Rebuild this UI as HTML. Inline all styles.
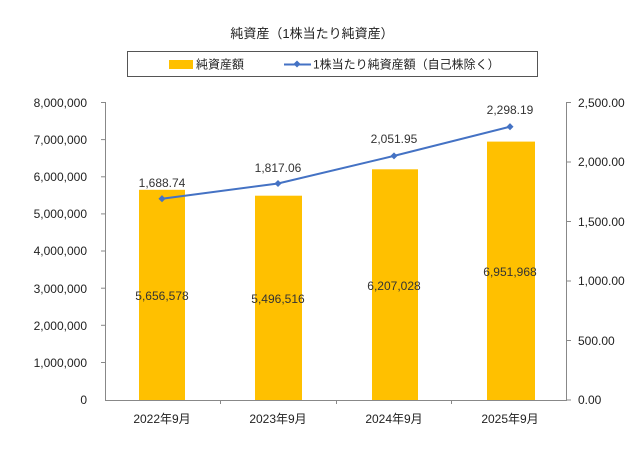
<!DOCTYPE html>
<html><head><meta charset="utf-8"><style>
html,body{margin:0;padding:0;background:#fff;}
svg{display:block;font-family:"Liberation Sans","Noto Sans CJK JP",sans-serif;}
</style></head><body>
<svg width="640" height="450" viewBox="0 0 640 450" xmlns="http://www.w3.org/2000/svg">
<rect width="640" height="450" fill="#fff"/>
<text x="312" y="38" font-size="13" text-anchor="middle" fill="#222">純資産（1株当たり純資産）</text>
<rect x="127.5" y="51.5" width="410" height="25" fill="#fff" stroke="#555" stroke-width="1"/>
<rect x="169" y="60" width="24" height="9" fill="#FFC000"/>
<text x="196" y="68.5" font-size="12" fill="#222">純資産額</text>
<line x1="284" y1="64.5" x2="311" y2="64.5" stroke="#4472C4" stroke-width="2"/>
<rect x="294.5" y="61.5" width="5" height="5" fill="#4472C4" transform="rotate(45 297 64)"/>
<text x="313" y="68.5" font-size="12" fill="#222">1株当たり純資産額（自己株除く）</text>
<g stroke="#888" stroke-width="1">
<line x1="105.5" y1="102" x2="105.5" y2="400"/>
<line x1="566.5" y1="102" x2="566.5" y2="400"/>
<line x1="105" y1="400.5" x2="567" y2="400.5"/>
<line x1="101" y1="102.5" x2="105" y2="102.5"/><line x1="101" y1="139.6" x2="105" y2="139.6"/>
<line x1="101" y1="176.8" x2="105" y2="176.8"/><line x1="101" y1="213.9" x2="105" y2="213.9"/>
<line x1="101" y1="251" x2="105" y2="251"/><line x1="101" y1="288.2" x2="105" y2="288.2"/>
<line x1="101" y1="325.3" x2="105" y2="325.3"/><line x1="101" y1="362.5" x2="105" y2="362.5"/>
<line x1="567" y1="102.5" x2="571" y2="102.5"/><line x1="567" y1="162" x2="571" y2="162"/>
<line x1="567" y1="221.5" x2="571" y2="221.5"/><line x1="567" y1="281" x2="571" y2="281"/>
<line x1="567" y1="340.5" x2="571" y2="340.5"/><line x1="567" y1="400" x2="571" y2="400"/>
<line x1="220.5" y1="400" x2="220.5" y2="404"/><line x1="336.5" y1="400" x2="336.5" y2="404"/>
<line x1="451.5" y1="400" x2="451.5" y2="404"/>
</g>
<g font-size="12" fill="#222" text-anchor="end">
<text x="87" y="107">8,000,000</text><text x="87" y="144">7,000,000</text>
<text x="87" y="181">6,000,000</text><text x="87" y="218">5,000,000</text>
<text x="87" y="255">4,000,000</text><text x="87" y="293">3,000,000</text>
<text x="87" y="330">2,000,000</text><text x="87" y="367">1,000,000</text>
<text x="87" y="404">0</text>
</g>
<g font-size="12" fill="#222">
<text x="578" y="107">2,500.00</text><text x="578" y="166">2,000.00</text>
<text x="578" y="226">1,500.00</text><text x="578" y="285">1,000.00</text>
<text x="578" y="345">500.00</text><text x="578" y="404">0.00</text>
</g>
<g fill="#FFC000">
<rect x="139" y="189.8" width="46" height="210.2"/>
<rect x="255" y="195.7" width="47" height="204.3"/>
<rect x="372" y="169.3" width="46" height="230.7"/>
<rect x="487" y="141.6" width="48" height="258.4"/>
</g>
<g font-size="12" fill="#333" text-anchor="middle">
<text x="162" y="300">5,656,578</text><text x="278" y="303">5,496,516</text>
<text x="394" y="290">6,207,028</text><text x="510" y="276">6,951,968</text>
</g>
<polyline points="162,198.7 278,183.5 394,155.9 510,126.7" fill="none" stroke="#4472C4" stroke-width="2"/>
<g fill="#4472C4">
<rect x="159.5" y="196.2" width="5" height="5" transform="rotate(45 162 198.7)"/>
<rect x="275.5" y="181" width="5" height="5" transform="rotate(45 278 183.5)"/>
<rect x="391.5" y="153.4" width="5" height="5" transform="rotate(45 394 155.9)"/>
<rect x="507.5" y="124.2" width="5" height="5" transform="rotate(45 510 126.7)"/>
</g>
<g font-size="12" fill="#333" text-anchor="middle">
<text x="162" y="187">1,688.74</text><text x="278" y="172">1,817.06</text>
<text x="394" y="143">2,051.95</text><text x="510" y="114">2,298.19</text>
</g>
<g font-size="12" fill="#222" text-anchor="middle">
<text x="162" y="423">2022年9月</text><text x="278" y="423">2023年9月</text>
<text x="394" y="423">2024年9月</text><text x="510" y="423">2025年9月</text>
</g>
</svg>
</body></html>
